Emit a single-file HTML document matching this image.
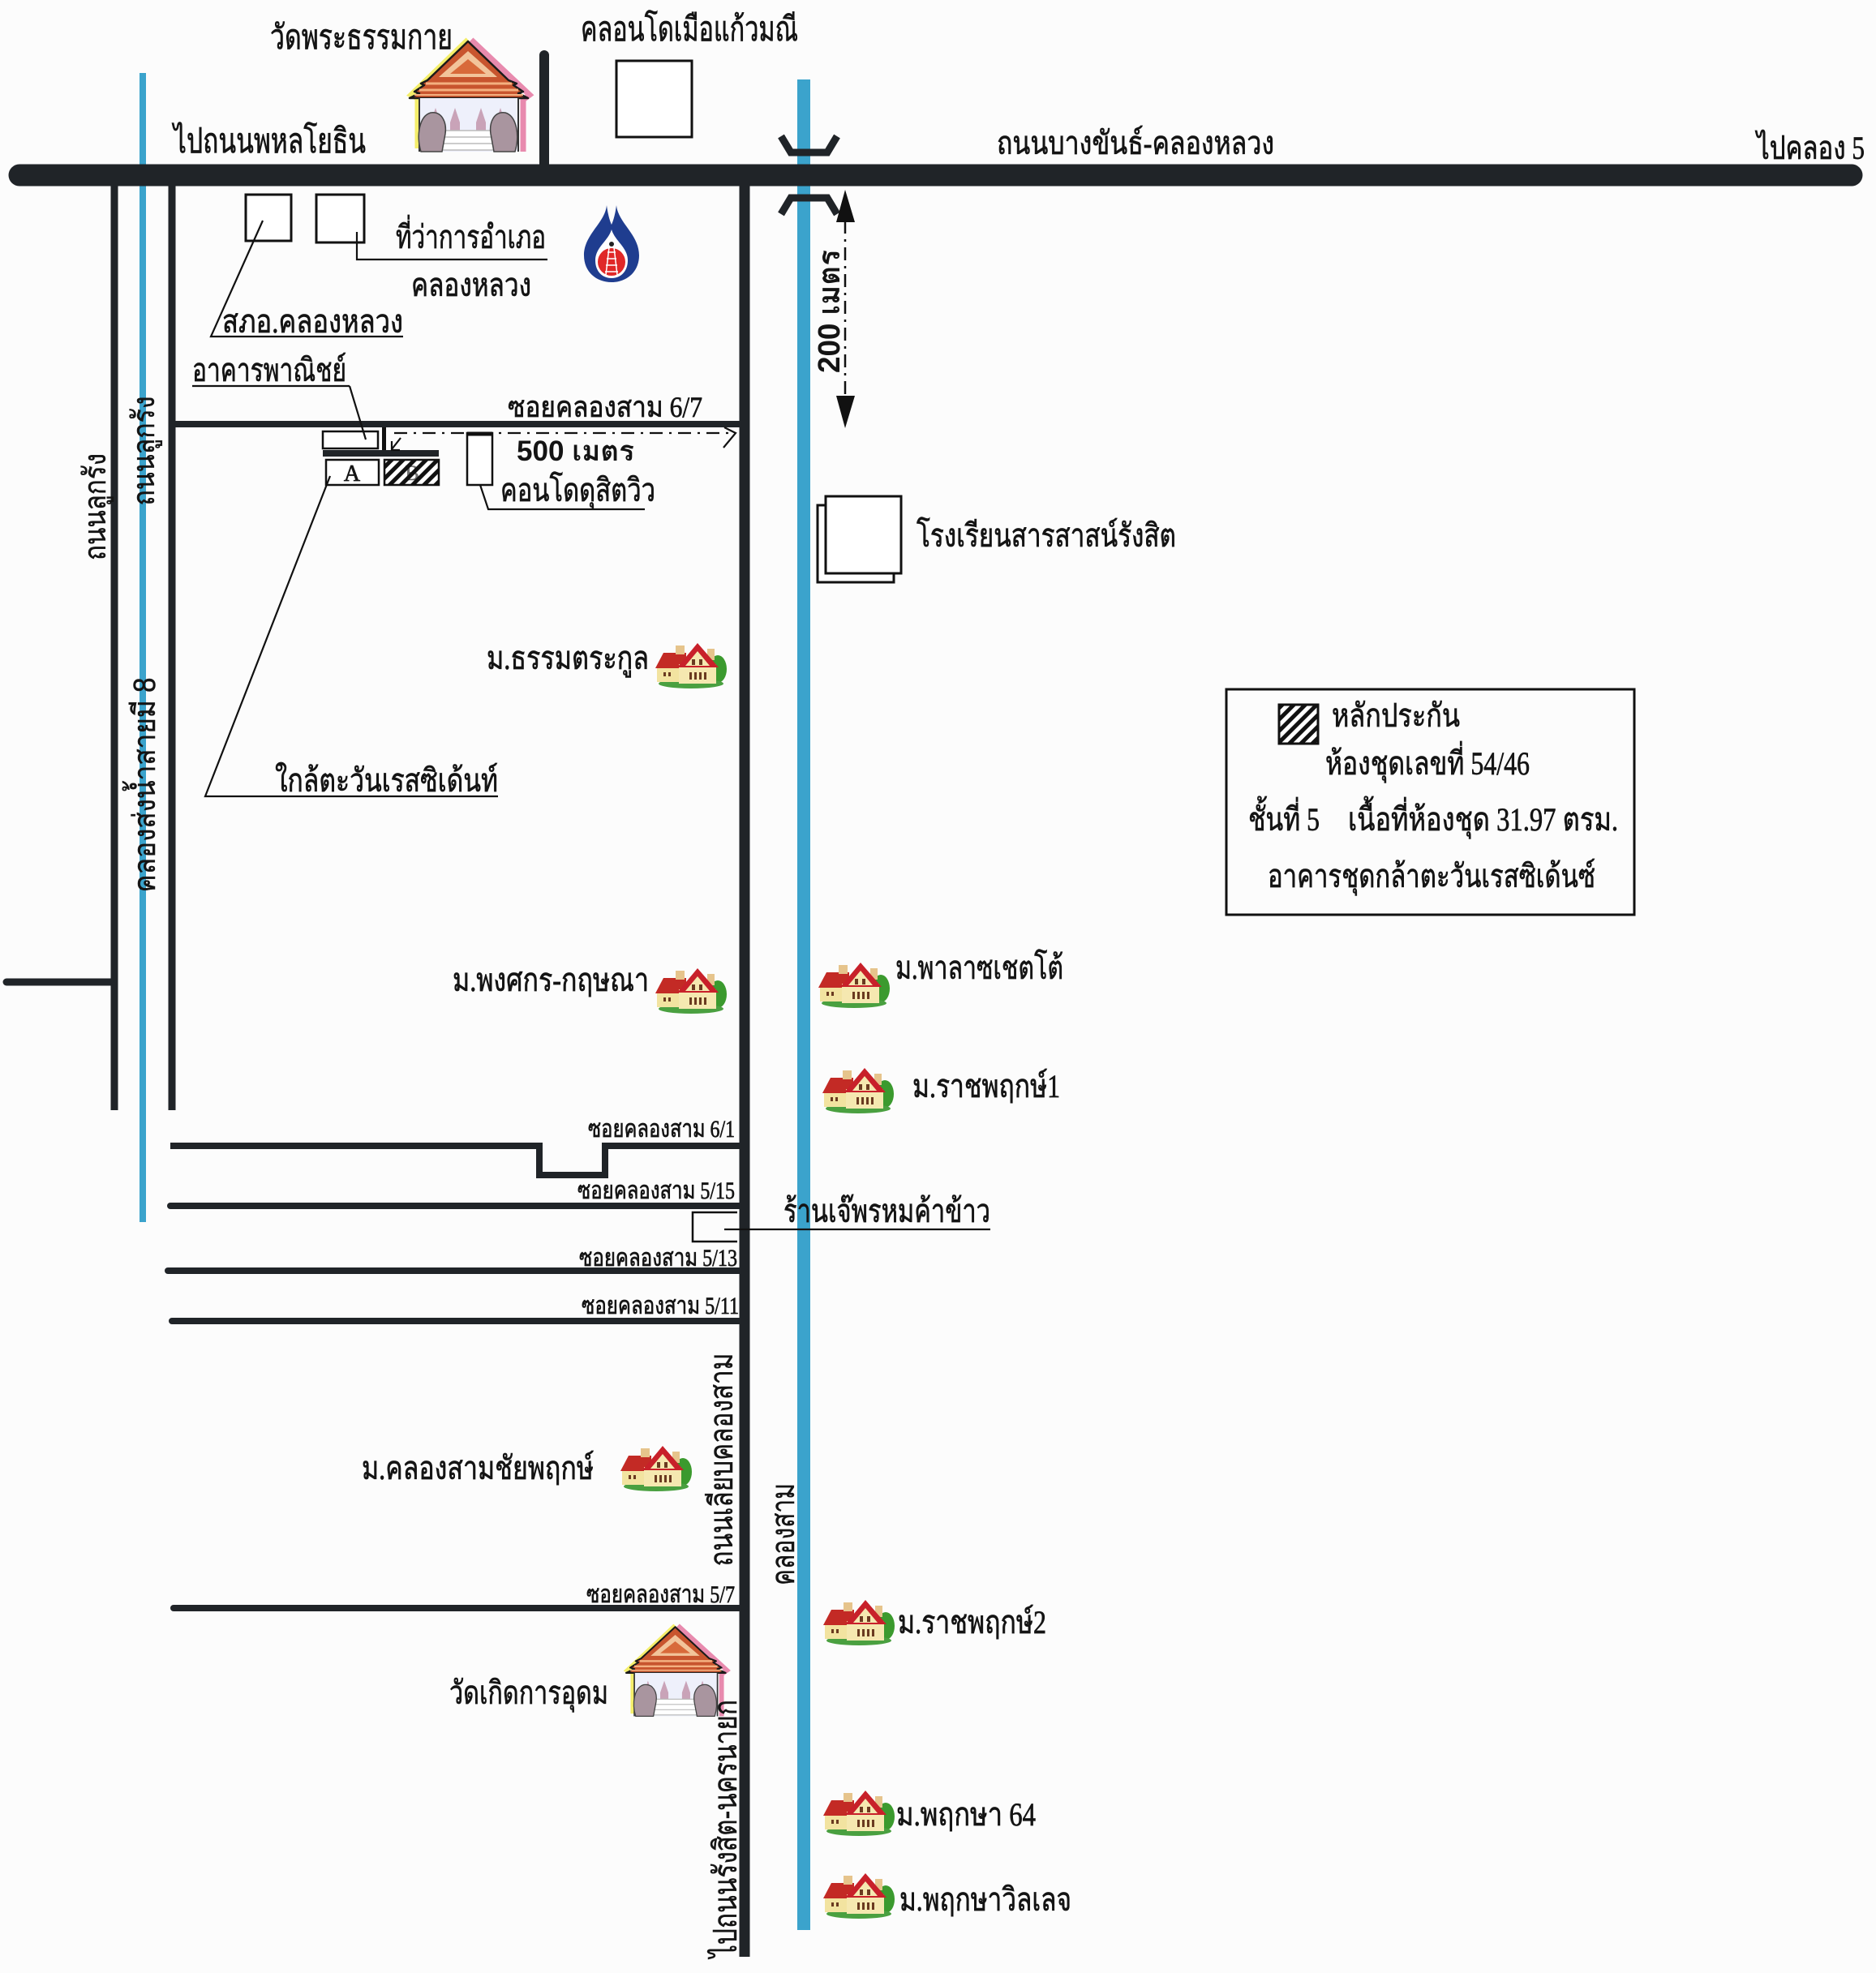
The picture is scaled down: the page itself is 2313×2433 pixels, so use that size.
<!DOCTYPE html>
<html><head><meta charset="utf-8"><style>
html,body{margin:0;padding:0;background:#fcfcfc;}
svg{display:block;}
.t{font-family:"Liberation Serif","Norasi","Angsana New","TH Sarabun New","Garuda","Loma","DejaVu Serif",serif;fill:#141414;stroke:#141414;stroke-width:0.7;}
.s{font-family:"Liberation Sans","Tahoma","Loma","Garuda","DejaVu Sans",sans-serif;fill:#141414;stroke:#141414;stroke-width:0.5;}
.bd{font-family:"Liberation Sans","Tahoma","Loma","Garuda","DejaVu Sans",sans-serif;font-weight:bold;fill:#141414;}
</style></head><body>
<svg width="2313" height="2433" viewBox="0 0 2313 2433" xmlns="http://www.w3.org/2000/svg">
<defs>
<pattern id="hatch" width="10" height="10" patternUnits="userSpaceOnUse" patternTransform="rotate(45)">
<rect width="10" height="10" fill="#ffffff"/><rect width="5" height="10" fill="#111"/>
</pattern>
<g id="house">
<ellipse cx="79" cy="34" rx="11" ry="17" fill="#3b9a2e"/>
<ellipse cx="46" cy="52" rx="40" ry="6" fill="#4aa040"/>
<rect x="4" y="30" width="34" height="20" fill="#f2e3a0"/>
<polygon points="2,33 12,14 40,14 40,33" fill="#c32a25"/>
<rect x="27" y="5" width="11" height="11" fill="#e6c48c"/>
<rect x="66" y="9" width="9" height="14" fill="#e6c48c"/>
<rect x="31" y="28" width="46" height="24" fill="#f5e8b0"/>
<polygon points="54,2 29,32 80,32" fill="#c8202a"/>
<polygon points="54,12 39,30 69,30" fill="#f5e8b0"/>
<rect x="47" y="22" width="4" height="7" fill="#6a3a20"/><rect x="56" y="22" width="4" height="7" fill="#6a3a20"/>
<rect x="44" y="38" width="3" height="9" fill="#6a3a20"/><rect x="50" y="38" width="3" height="9" fill="#6a3a20"/><rect x="56" y="38" width="3" height="9" fill="#6a3a20"/><rect x="62" y="38" width="3" height="9" fill="#6a3a20"/>
<rect x="12" y="38" width="3" height="5" fill="#6a3a20"/><rect x="18" y="38" width="3" height="5" fill="#6a3a20"/>
</g>
<g id="temple">
<path d="M72,2 L2,70 L10,74 L10,136" stroke="#f4ee6a" stroke-width="7" fill="none"/>
<path d="M76,2 L148,70 L140,76 L140,140" stroke="#e88aae" stroke-width="7" fill="none"/>
<polygon points="72,4 22,52 14,56 18,58 6,66 12,68 0,74 146,74 134,68 140,66 128,58 132,56 122,52" fill="#c8552e" stroke="#1a1a1a" stroke-width="2.5" stroke-linejoin="round"/>
<polygon points="72,16 36,48 108,48" fill="#f2c49a"/>
<polygon points="72,26 50,44 94,44" fill="#d86a3a"/>
<line x1="20" y1="56" x2="126" y2="56" stroke="#f4b080" stroke-width="3"/>
<line x1="12" y1="64" x2="134" y2="64" stroke="#f4b080" stroke-width="3"/>
<line x1="6" y1="70" x2="140" y2="70" stroke="#f4b080" stroke-width="2"/>
<rect x="12" y="74" width="122" height="66" fill="#eef0fb"/>
<line x1="12" y1="74" x2="12" y2="140" stroke="#333" stroke-width="2"/>
<line x1="134" y1="74" x2="134" y2="140" stroke="#333" stroke-width="2"/>
<path d="M26,104 l0,18 l12,0 l0,-18 l-6,-18 z M50,104 l0,18 l12,0 l0,-18 l-6,-18 z M82,104 l0,18 l12,0 l0,-18 l-6,-18 z M106,104 l0,18 l12,0 l0,-18 l-6,-18 z" fill="#c9a3b8"/>
<rect x="40" y="114" width="64" height="24" fill="#ffffff" stroke="#bbbbbb" stroke-width="1.5"/>
<line x1="40" y1="122" x2="104" y2="122" stroke="#bbb" stroke-width="1.5"/>
<line x1="40" y1="130" x2="104" y2="130" stroke="#bbb" stroke-width="1.5"/>
<path d="M14,140 C8,120 12,96 26,92 C40,90 46,104 44,118 L40,140 Z" fill="#a9959f" stroke="#444" stroke-width="1.5"/>
<path d="M130,140 C136,120 132,96 118,92 C104,90 98,104 100,118 L104,140 Z" fill="#a9959f" stroke="#444" stroke-width="1.5"/>
</g>
</defs>
<rect width="2313" height="2433" fill="#fcfcfc"/>

<!-- canals -->
<line x1="176" y1="90" x2="176" y2="1507" stroke="#3ba3cc" stroke-width="8"/>
<line x1="991" y1="98" x2="991" y2="2380" stroke="#3ba3cc" stroke-width="16"/>

<!-- roads -->
<g stroke="#202428" fill="none" stroke-linecap="round">
<line x1="24" y1="216" x2="2283" y2="216" stroke-width="27"/>
<line x1="671" y1="68" x2="671" y2="205" stroke-width="12"/>
<line x1="141" y1="226" x2="141" y2="1369" stroke-width="9" stroke-linecap="butt"/>
<line x1="212" y1="226" x2="212" y2="1369" stroke-width="9" stroke-linecap="butt"/>
<line x1="8" y1="1211" x2="141" y2="1211" stroke-width="9"/>
<line x1="918" y1="225" x2="918" y2="2413" stroke-width="13" stroke-linecap="butt"/>
<line x1="212" y1="523" x2="918" y2="523" stroke-width="8" stroke-linecap="butt"/>
<polyline points="210,1413 665,1413 665,1449 746,1449 746,1413 918,1413" stroke-width="8" stroke-linecap="butt"/>
<line x1="210" y1="1487" x2="918" y2="1487" stroke-width="8"/>
<line x1="207" y1="1567" x2="918" y2="1567" stroke-width="8"/>
<line x1="212" y1="1629" x2="918" y2="1629" stroke-width="8"/>
<line x1="214" y1="1983" x2="918" y2="1983" stroke-width="8"/>
</g>

<!-- bridge -->
<g stroke="#202428" stroke-width="9" fill="none" stroke-linejoin="miter">
<path d="M963,168 L975,188 L1020,188 L1032,168"/>
<path d="M963,264 L975,244 L1020,244 L1032,264"/>
</g>

<!-- 200 m arrow -->
<line x1="1042" y1="272" x2="1042" y2="488" stroke="#111" stroke-width="2.5" stroke-dasharray="16 7 3 7"/>
<polygon points="1042,234 1031,274 1054,274" fill="#111"/>
<polygon points="1042,528 1031,488 1054,488" fill="#111"/>

<!-- temples, logo, houses -->
<use href="#temple" transform="translate(505,47)"/>
<use href="#temple" transform="translate(772,2003) scale(0.84,0.81)"/>
<g transform="translate(718,253)">
<path fill="#1f3d8f" d="M30,0 C28,22 2,36 2,62 C2,82 17,95 36,95 C55,95 70,82 70,62 C70,36 44,22 42,0 C40,16 36,24 36,24 C36,24 32,16 30,0 Z"/>
<path fill="#fff" d="M36,30 C32,44 16,52 16,68 C16,82 25,90 36,90 C47,90 56,82 56,68 C56,52 40,44 36,30 Z"/>
<circle cx="36" cy="70" r="17" fill="#e02828"/>
<path d="M31,58 L41,58 M30,66 L42,66 M29,74 L43,74 M28,82 L44,82 M33,52 L29,86 M39,52 L43,86" stroke="#fff" stroke-width="1.5" fill="none"/>
<circle cx="36" cy="48" r="3" fill="#222"/>
</g>
<use href="#house" transform="translate(806,791)"/>
<use href="#house" transform="translate(806,1192)"/>
<use href="#house" transform="translate(1007,1185)"/>
<use href="#house" transform="translate(1012,1315)"/>
<use href="#house" transform="translate(763,1781)"/>
<use href="#house" transform="translate(1013,1971)"/>
<use href="#house" transform="translate(1013,2206)"/>
<use href="#house" transform="translate(1013,2308)"/>

<!-- boxes -->
<g stroke="#111" stroke-width="3" fill="#fff">
<rect x="760" y="75" width="93" height="94"/>
<rect x="303" y="240" width="56" height="57"/>
<rect x="390" y="240" width="59" height="59"/>
<rect x="1008" y="623" width="94" height="95"/>
<rect x="1018" y="612" width="93" height="95"/>
<rect x="398" y="532" width="68" height="21" stroke-width="2.5"/>
<rect x="402" y="567" width="65" height="31" stroke-width="2.5"/>
<rect x="474" y="567" width="67" height="31" stroke-width="2.5" fill="url(#hatch)"/>
<rect x="576" y="534" width="31" height="64" stroke-width="2.5"/>
<rect x="1512" y="850" width="503" height="278" stroke-width="3" fill="none"/>
<rect x="1577" y="869" width="48" height="48" fill="url(#hatch)"/>
<path d="M909,1495 L854,1495 L854,1531 L909,1531" fill="none" stroke-width="2.5"/>
</g>
<line x1="576" y1="535" x2="607" y2="535" stroke="#111" stroke-width="5"/>
<line x1="473.5" y1="527" x2="473.5" y2="557" stroke="#111" stroke-width="5"/>
<rect x="398" y="555" width="143" height="8" fill="#202428"/>
<text class="t" x="434" y="593" font-size="28" text-anchor="middle">A</text>
<text class="t" x="508" y="592" font-size="26" text-anchor="middle" fill-opacity="0.6" stroke-opacity="0.4">B</text>

<!-- leaders -->
<g stroke="#111" stroke-width="2.2" fill="none">
<polyline points="324,272 260,415 497,415"/>
<polyline points="440,286 440,320 675,320"/>
<line x1="237" y1="476" x2="431" y2="476"/>
<line x1="431" y1="476" x2="451" y2="542"/>
<polyline points="407,587 253,982 614,982"/>
<polyline points="592,598 602,628 795,628"/>
<line x1="893" y1="1516" x2="1221" y2="1516"/>
<line x1="486" y1="534" x2="905" y2="534" stroke-dasharray="16 8 3 8"/>
<polyline points="893,527 907,534 892,552"/>
<line x1="494" y1="540" x2="483" y2="554"/>
<polyline points="483,544 483,555 493,555"/>
</g>

<!-- labels -->
<g class="t">
<text x="333" y="60" font-size="42" textLength="225" lengthAdjust="spacingAndGlyphs">วัดพระธรรมกาย</text>
<text x="716" y="50" font-size="42" textLength="268" lengthAdjust="spacingAndGlyphs">คลอนโดเมือแก้วมณี</text>
<text x="214" y="188" font-size="42" textLength="237" lengthAdjust="spacingAndGlyphs">ไปถนนพหลโยธิน</text>
<text x="1229" y="190" font-size="40" textLength="342" lengthAdjust="spacingAndGlyphs">ถนนบางขันธ์-คลองหลวง</text>
<text x="2166" y="196" font-size="40" textLength="133" lengthAdjust="spacingAndGlyphs">ไปคลอง 5</text>
<text x="488" y="306" font-size="40" textLength="185" lengthAdjust="spacingAndGlyphs">ที่ว่าการอำเภอ</text>
<text x="507" y="365" font-size="40" textLength="148" lengthAdjust="spacingAndGlyphs">คลองหลวง</text>
<text x="274" y="410" font-size="40" textLength="223" lengthAdjust="spacingAndGlyphs">สภอ.คลองหลวง</text>
<text x="237" y="470" font-size="40" textLength="190" lengthAdjust="spacingAndGlyphs">อาคารพาณิชย์</text>
<text x="626" y="514" font-size="36" textLength="240" lengthAdjust="spacingAndGlyphs">ซอยคลองสาม 6/7</text>
<text x="617" y="618" font-size="40" textLength="191" lengthAdjust="spacingAndGlyphs">คอนโดดุสิตวิว</text>
<text x="1130" y="674" font-size="40" textLength="320" lengthAdjust="spacingAndGlyphs">โรงเรียนสารสาสน์รังสิต</text>
<text x="600" y="825" font-size="40" textLength="200" lengthAdjust="spacingAndGlyphs">ม.ธรรมตระกูล</text>
<text x="339" y="976" font-size="40" textLength="275" lengthAdjust="spacingAndGlyphs">ใกล้ตะวันเรสซิเด้นท์</text>
<text x="558" y="1222" font-size="40" textLength="242" lengthAdjust="spacingAndGlyphs">ม.พงศกร-กฤษณา</text>
<text x="1104" y="1207" font-size="40" textLength="207" lengthAdjust="spacingAndGlyphs">ม.พาลาซเชตโต้</text>
<text x="1125" y="1353" font-size="40" textLength="182" lengthAdjust="spacingAndGlyphs">ม.ราชพฤกษ์1</text>
<text x="1642" y="896" font-size="40" textLength="158" lengthAdjust="spacingAndGlyphs">หลักประกัน</text>
<text x="1634" y="955" font-size="40" textLength="252" lengthAdjust="spacingAndGlyphs">ห้องชุดเลขที่ 54/46</text>
<text x="1539" y="1024" font-size="40" textLength="88" lengthAdjust="spacingAndGlyphs">ชั้นที่ 5</text>
<text x="1662" y="1024" font-size="40" textLength="333" lengthAdjust="spacingAndGlyphs">เนื้อที่ห้องชุด 31.97 ตรม.</text>
<text x="1563" y="1094" font-size="40" textLength="404" lengthAdjust="spacingAndGlyphs">อาคารชุดกล้าตะวันเรสซิเด้นซ์</text>
<text x="725" y="1402" font-size="30" textLength="181" lengthAdjust="spacingAndGlyphs">ซอยคลองสาม 6/1</text>
<text x="712" y="1478" font-size="30" textLength="194" lengthAdjust="spacingAndGlyphs">ซอยคลองสาม 5/15</text>
<text x="714" y="1561" font-size="30" textLength="195" lengthAdjust="spacingAndGlyphs">ซอยคลองสาม 5/13</text>
<text x="717" y="1620" font-size="30" textLength="194" lengthAdjust="spacingAndGlyphs">ซอยคลองสาม 5/11</text>
<text x="723" y="1976" font-size="30" textLength="183" lengthAdjust="spacingAndGlyphs">ซอยคลองสาม 5/7</text>
<text x="966" y="1507" font-size="40" textLength="255" lengthAdjust="spacingAndGlyphs">ร้านเจ๊พรหมค้าข้าว</text>
<text x="446" y="1824" font-size="40" textLength="286" lengthAdjust="spacingAndGlyphs">ม.คลองสามชัยพฤกษ์</text>
<text x="554" y="2101" font-size="40" textLength="196" lengthAdjust="spacingAndGlyphs">วัดเกิดการอุดม</text>
<text x="1107" y="2014" font-size="40" textLength="183" lengthAdjust="spacingAndGlyphs">ม.ราชพฤกษ์2</text>
<text x="1105" y="2251" font-size="40" textLength="172" lengthAdjust="spacingAndGlyphs">ม.พฤกษา 64</text>
<text x="1109" y="2356" font-size="40" textLength="212" lengthAdjust="spacingAndGlyphs">ม.พฤกษาวิลเลจ</text>
</g>
<text class="bd" x="637" y="568" font-size="35" textLength="145" lengthAdjust="spacingAndGlyphs">500 เมตร</text>
<text class="bd" transform="translate(1035,384) rotate(-90)" x="0" y="0" text-anchor="middle" font-size="38" textLength="152" lengthAdjust="spacingAndGlyphs">200 เมตร</text>

<g class="s" text-anchor="middle">
<text transform="translate(130,625) rotate(-90)" font-size="38" textLength="132" lengthAdjust="spacingAndGlyphs">ถนนลูกรัง</text>
<text transform="translate(190,556) rotate(-90)" font-size="38" textLength="135" lengthAdjust="spacingAndGlyphs">ถนนลูกรัง</text>
<text transform="translate(191,968) rotate(-90)" font-size="38" textLength="265" lengthAdjust="spacingAndGlyphs">คลองส่งน้ำสายมี 8</text>
<text transform="translate(903,1800) rotate(-90)" font-size="40" textLength="263" lengthAdjust="spacingAndGlyphs">ถนนเลียบคลองสาม</text>
<text transform="translate(979,1892) rotate(-90)" font-size="40" textLength="126" lengthAdjust="spacingAndGlyphs">คลองสาม</text>
<text transform="translate(908,2255) rotate(-90)" font-size="40" textLength="318" lengthAdjust="spacingAndGlyphs">ไปถนนรังสิต-นครนายก</text>
</g>
</svg>
</body></html>
